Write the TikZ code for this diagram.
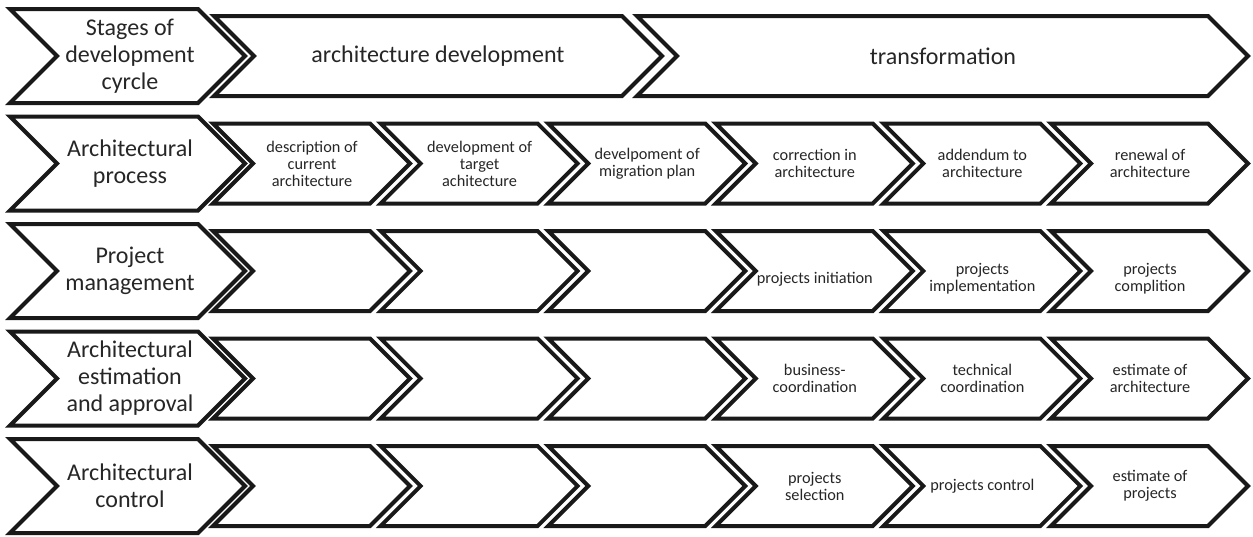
\documentclass[tikz,border=0pt]{standalone}
\usepackage{fontspec}
\setmainfont{Carlito}
\tikzset{
  chev/.style={draw=black!90, line width=4pt, fill=white, line join=miter},
  bigtext/.style={font=\fontsize{24}{27}\selectfont, align=center, text=black!85, inner sep=0pt},
  smalltext/.style={font=\fontsize{16.3}{17}\selectfont, align=center, text=black!85, inner sep=0pt}
}
% #1 x0, #2 x1, #3 y centre, #4 half height, #5 depth
\newcommand\chevshape[5]{%
  \draw[chev] (#1,#3-#4) -- (#2,#3-#4) -- (#2+#5,#3) -- (#2,#3+#4) -- (#1,#3+#4) -- (#1+#5,#3) -- cycle;}
\begin{document}
\begin{tikzpicture}[x=1pt,y=-1pt]
\useasboundingbox (0,0) rectangle (1253,536);
% ---------- row 1 ----------
\chevshape{214}{622}{56}{40}{40}
\chevshape{637}{1208}{56}{40}{40}
\chevshape{10}{198}{56}{47}{47}
\node[bigtext] (h1) at (130,56) {Stages of\\development\\cyrcle};
\node[bigtext] (s1) at (438,56) {architecture development};
\node[bigtext] (s2) at (943,56) {transformation};
% ---------- rows 2-5 ----------
\foreach \r/\yc in {2/163.5,3/271,4/378.5,5/486}{
  \foreach \k in {0,...,5}{
    \pgfmathsetmacro\xa{213+167.6*\k}
    \pgfmathsetmacro\xb{\xa+157}
    \chevshape{\xa}{\xb}{\yc}{40}{40}
  }
  \chevshape{10}{198}{\yc}{47}{47}
}
% headers
\node[bigtext] (h2) at (130,163.5) {Architectural\\process};
\node[bigtext] (h3) at (130,271) {Project\\management};
\node[bigtext] (h4) at (130,378.5) {Architectural\\estimation\\and approval};
\node[bigtext] (h5) at (130,486) {Architectural\\control};
% row 2 labels
\node[smalltext] (a1) at (312,163.5) {description of\\current\\architecture};
\node[smalltext] (a2) at (479.6,163.5) {development of\\target\\achitecture};
\node[smalltext] (a3) at (647.2,163.5) {develpoment of\\migration plan};
\node[smalltext] (a4) at (814.8,163.5) {correction in\\architecture};
\node[smalltext] (a5) at (982.4,163.5) {addendum to\\architecture};
\node[smalltext] (a6) at (1150,163.5) {renewal of\\architecture};
% row 3 labels
\node[smalltext] (p4) at (814.8,279) {projects initiation};
\node[smalltext] (p5) at (982.4,279) {projects\\implementation};
\node[smalltext] (p6) at (1150,279) {projects\\complition};
% row 4 labels
\node[smalltext] (e4) at (814.8,378.5) {business-\\coordination};
\node[smalltext] (e5) at (982.4,378.5) {technical\\coordination};
\node[smalltext] (e6) at (1150,378.5) {estimate of\\architecture};
% row 5 labels
\node[smalltext] (c4) at (814.8,486) {projects\\selection};
\node[smalltext] (c5) at (982.4,486) {projects control};
\node[smalltext] (c6) at (1150,486) {estimate of\\projects};
\end{tikzpicture}
\end{document}
